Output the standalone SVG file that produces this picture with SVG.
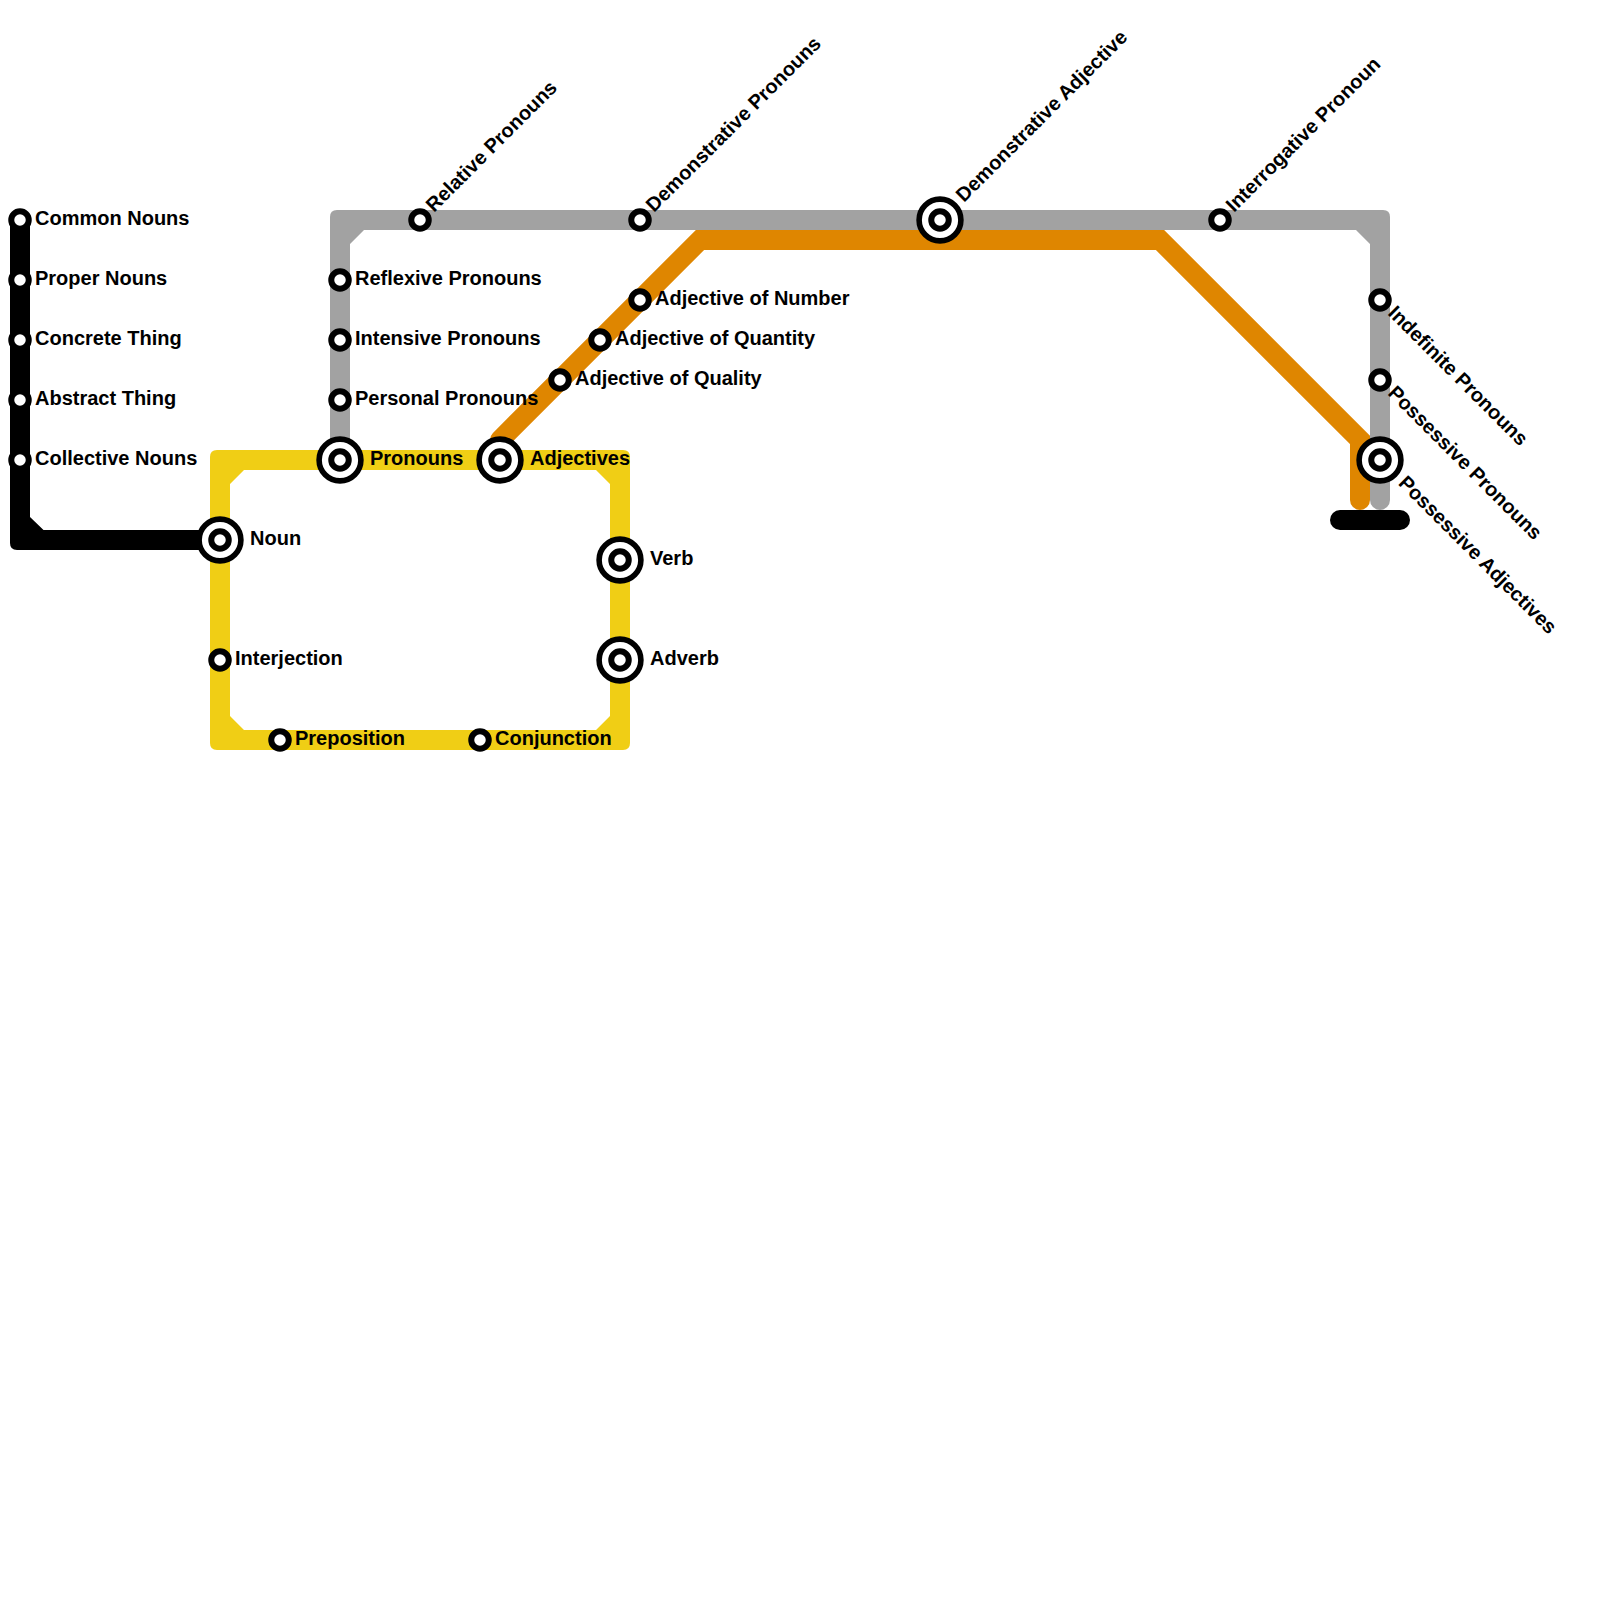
<svg xmlns="http://www.w3.org/2000/svg" width="1600" height="1600" viewBox="0 0 1600 1600">
<style>
text{font-family:"Liberation Sans",Arial,sans-serif;font-weight:700;font-size:20px;fill:#000}
.o{fill:#fff;stroke:#000;stroke-width:5.6}
.s{fill:#fff;stroke:#000;stroke-width:6}
</style>
<defs>
<g id="st"><circle class="s" r="8.75"/></g>
<g id="ic"><circle class="o" r="20.9"/><circle class="s" r="8.75"/></g>
</defs>
<rect width="1600" height="1600" fill="#fff"/>
<g id="connectors">
<path id="line-yellow" fill="#f0ce15" fill-rule="evenodd" d="M217,450H623Q630,450 630,457V743Q630,750 623,750H217Q210,750 210,743V457Q210,450 217,450ZM244,470L230,484V716L244,730H596L610,716V484L596,470Z"/>
<path id="line-orange" fill="none" stroke="#df8600" stroke-width="20" stroke-linecap="round" stroke-linejoin="miter" d="M500,440L700,240H1160L1360,440V500"/>
<path id="line-grey" fill="#a2a2a2" d="M330,460V217Q330,210 337,210H1383Q1390,210 1390,217V500A10,10 0 0 1 1370,500V244L1356,230H364L350,244V460Z"/>
<path id="line-black" fill="#000" d="M10,220H30V517L43.5,530H220V550H17Q10,550 10,543Z"/>
<path id="line-end" fill="none" stroke="#000" stroke-width="20" stroke-linecap="round" d="M1340,520H1400"/>
</g>
<g id="n-common"><use href="#st" x="20" y="220"/><text x="35" y="225">Common Nouns</text></g>
<g id="n-proper"><use href="#st" x="20" y="280"/><text x="35" y="285">Proper Nouns</text></g>
<g id="n-concrete"><use href="#st" x="20" y="340"/><text x="35" y="345">Concrete Thing</text></g>
<g id="n-abstract"><use href="#st" x="20" y="400"/><text x="35" y="405">Abstract Thing</text></g>
<g id="n-collective"><use href="#st" x="20" y="460"/><text x="35" y="465">Collective Nouns</text></g>
<g id="n-noun"><use href="#ic" x="220" y="540"/><text x="250" y="545">Noun</text></g>
<g id="n-interjection"><use href="#st" x="220" y="660"/><text x="235" y="665">Interjection</text></g>
<g id="n-preposition"><use href="#st" x="280" y="740"/><text x="295" y="745">Preposition</text></g>
<g id="n-conjunction"><use href="#st" x="480" y="740"/><text x="495" y="745">Conjunction</text></g>
<g id="n-pronouns"><use href="#ic" x="340" y="460"/><text x="370" y="465">Pronouns</text></g>
<g id="n-adjectives"><use href="#ic" x="500" y="460"/><text x="530" y="465">Adjectives</text></g>
<g id="n-verb"><use href="#ic" x="620" y="560"/><text x="650" y="565">Verb</text></g>
<g id="n-adverb"><use href="#ic" x="620" y="660"/><text x="650" y="665">Adverb</text></g>
<g id="n-reflexive"><use href="#st" x="340" y="280"/><text x="355" y="285">Reflexive Pronouns</text></g>
<g id="n-intensive"><use href="#st" x="340" y="340"/><text x="355" y="345">Intensive Pronouns</text></g>
<g id="n-personal"><use href="#st" x="340" y="400"/><text x="355" y="405">Personal Pronouns</text></g>
<g id="n-relative"><use href="#st" x="420" y="220"/><text transform="translate(434 213) rotate(-45)">Relative Pronouns</text></g>
<g id="n-dem-pron"><use href="#st" x="640" y="220"/><text transform="translate(654 213) rotate(-45)">Demonstrative Pronouns</text></g>
<g id="n-dem-adj"><use href="#ic" x="940" y="220"/><text transform="translate(964 203) rotate(-45)">Demonstrative Adjective</text></g>
<g id="n-interrogative"><use href="#st" x="1220" y="220"/><text transform="translate(1234 213) rotate(-45)">Interrogative Pronoun</text></g>
<g id="n-number"><use href="#st" x="640" y="300"/><text x="655" y="305">Adjective of Number</text></g>
<g id="n-quantity"><use href="#st" x="600" y="340"/><text x="615" y="345">Adjective of Quantity</text></g>
<g id="n-quality"><use href="#st" x="560" y="380"/><text x="575" y="385">Adjective of Quality</text></g>
<g id="n-indefinite"><use href="#st" x="1380" y="300"/><text transform="translate(1387 314) rotate(45)">Indefinite Pronouns</text></g>
<g id="n-poss-pron"><use href="#st" x="1380" y="380"/><text transform="translate(1387 394) rotate(45)">Possessive Pronouns</text></g>
<g id="n-poss-adj"><use href="#ic" x="1380" y="460"/><text transform="translate(1397.5 484) rotate(45)">Possessive Adjectives</text></g>
</svg>
